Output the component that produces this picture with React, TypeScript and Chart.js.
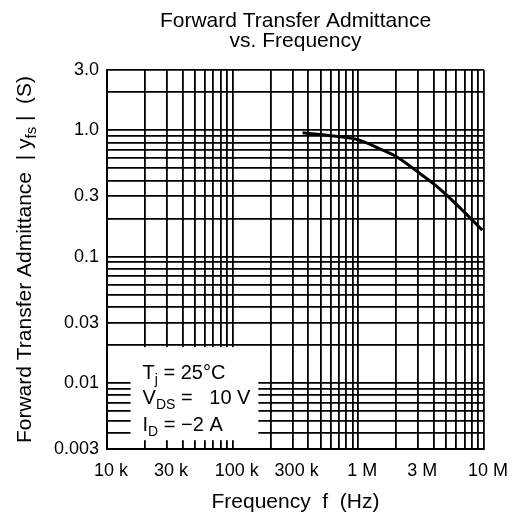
import { useEffect, useRef } from "react";
import { Chart, registerables } from "chart.js";

Chart.register(...registerables);

// ---- data ----
const titleLines = ["Forward Transfer Admittance", "vs. Frequency"];
const xAxisTitle = "Frequency  f  (Hz)";
const yAxisTitleParts: [string, boolean][] = [
  ["Forward Transfer Admittance  | y", false],
  ["fs", true],
  [" |  (S)", false],
];
const frequencies = [3.6e5, 6e5, 1e6, 1.5e6, 2e6, 3e6, 4e6, 5e6, 7e6, 9.7e6];
const admittance = [0.955, 0.905, 0.84, 0.71, 0.62, 0.465, 0.375, 0.31, 0.224, 0.162];
const xTickValues = [1e4, 3e4, 1e5, 3e5, 1e6, 3e6, 1e7];
const xTickLabels = ["10 k", "30 k", "100 k", "300 k", "1 M", "3 M", "10 M"];
const yTickValues = [0.003, 0.01, 0.03, 0.1, 0.3, 1, 3];
const yTickLabels = ["0.003", "0.01", "0.03", "0.1", "0.3", "1.0", "3.0"];
const conditionLines: [string, boolean][][] = [
  [["T", false], ["j", true], [" = 25°C", false]],
  [["V", false], ["DS", true], [" =   10 V", false]],
  [["I", false], ["D", true], [" = −2 A", false]],
];
const X_MIN = 1e4;
const X_MAX = 1e7;
const Y_MIN = 0.003;
const Y_MAX = 3;

const FONT = "'Liberation Sans', Arial, sans-serif";

function logGrid(min: number, max: number) {
  const out: number[] = [];
  for (let e = Math.floor(Math.log10(min)); e <= Math.ceil(Math.log10(max)); e++) {
    for (let m = 1; m <= 9; m++) {
      const v = m * Math.pow(10, e);
      if (v >= min * 0.999 && v <= max * 1.001) out.push(v);
    }
  }
  return out;
}

function labelFor(v: number, values: number[], labels: string[]) {
  for (let i = 0; i < values.length; i++) {
    if (Math.abs(Math.log10(v) - Math.log10(values[i])) < 1e-6) return labels[i];
  }
  return "";
}

function richWidth(ctx: CanvasRenderingContext2D, parts: [string, boolean][], size: number) {
  let w = 0;
  for (const [t, sub] of parts) {
    ctx.font = `${sub ? Math.round(size * 0.7) : size}px ${FONT}`;
    w += ctx.measureText(t).width;
  }
  return w;
}

function drawRich(
  ctx: CanvasRenderingContext2D,
  parts: [string, boolean][],
  x: number,
  y: number,
  size: number
) {
  let cx = x;
  ctx.textAlign = "left";
  ctx.textBaseline = "alphabetic";
  for (const [t, sub] of parts) {
    ctx.font = `${sub ? Math.round(size * 0.7) : size}px ${FONT}`;
    ctx.fillText(t, cx, sub ? y + size * 0.25 : y);
    cx += ctx.measureText(t).width;
  }
}

const textPlugin = {
  id: "textPlugin",
  beforeDatasetsDraw(chart: any) {
    const ctx: CanvasRenderingContext2D = chart.ctx;
    const xs = chart.scales.x;
    const ys = chart.scales.y;
    const left = xs.getPixelForValue(15.4e3);
    const right = xs.getPixelForValue(160e3);
    const top = ys.getPixelForValue(0.0192);
    const bottom = ys.getPixelForValue(0.00352);
    ctx.save();
    ctx.fillStyle = "#fff";
    ctx.fillRect(left, top, right - left, bottom - top);
    ctx.fillStyle = "#000";
    const offs = [32, 57, 84];
    conditionLines.forEach((parts, i) => {
      drawRich(ctx, parts, left + 12, top + offs[i], 20);
    });
    ctx.restore();
  },
  afterDraw(chart: any) {
    const ctx: CanvasRenderingContext2D = chart.ctx;
    const area = chart.chartArea;
    const cx = (area.left + area.right) / 2;
    ctx.save();
    ctx.fillStyle = "#000";
    ctx.textAlign = "center";
    ctx.textBaseline = "alphabetic";
    ctx.font = `21px ${FONT}`;
    ctx.fillText(titleLines[0], cx, 27);
    ctx.fillText(titleLines[1], cx, 47);
    ctx.font = `21px ${FONT}`;
    ctx.fillText(xAxisTitle, cx, 508);
    // y axis title
    const cy = (area.top + area.bottom) / 2;
    ctx.translate(31, cy);
    ctx.rotate(-Math.PI / 2);
    const w = richWidth(ctx, yAxisTitleParts, 21);
    drawRich(ctx, yAxisTitleParts, -w / 2, 0, 21);
    ctx.restore();
  },
};

export default function App() {
  const ref = useRef<HTMLCanvasElement | null>(null);
  useEffect(() => {
    if (!ref.current) return;
    const chart = new Chart(ref.current, {
      type: "line",
      data: {
        datasets: [
          {
            data: frequencies.map((f, i) => ({ x: f, y: admittance[i] })),
            borderColor: "#000",
            borderWidth: 3,
            pointRadius: 0,
            cubicInterpolationMode: "monotone",
            fill: false,
          },
        ],
      },
      options: {
        animation: false,
        responsive: false,
        devicePixelRatio: 1,
        layout: { padding: { top: 70, left: 0, right: 30, bottom: 0 } },
        plugins: { legend: { display: false }, tooltip: { enabled: false }, title: { display: false } },
        scales: {
          x: {
            type: "logarithmic",
            min: X_MIN,
            max: X_MAX,
            afterBuildTicks: (s: any) => {
              s.ticks = logGrid(X_MIN, X_MAX).map((v) => ({ value: v }));
            },
            afterFit: (s: any) => {
              s.height = 70;
            },
            grid: { color: "#000", lineWidth: 1.8, drawTicks: false },
            border: { display: true, color: "#000", width: 2 },
            ticks: {
              autoSkip: false,
              maxRotation: 0,
              minRotation: 0,
              padding: 11,
              labelOffset: 4,
              color: "#000",
              font: { family: FONT, size: 18 },
              callback: (v: any) => labelFor(Number(v), xTickValues, xTickLabels),
            },
          },
          y: {
            type: "logarithmic",
            min: Y_MIN,
            max: Y_MAX,
            afterBuildTicks: (s: any) => {
              s.ticks = logGrid(Y_MIN, Y_MAX).map((v) => ({ value: v }));
            },
            afterFit: (s: any) => {
              s.width = 107;
            },
            grid: { color: "#000", lineWidth: 1.8, drawTicks: false },
            border: { display: true, color: "#000", width: 2 },
            ticks: {
              autoSkip: false,
              padding: 8,
              color: "#000",
              font: { family: FONT, size: 18 },
              callback: (v: any) => labelFor(Number(v), yTickValues, yTickLabels),
            },
          },
        },
      } as any,
      plugins: [textPlugin],
    });
    return () => chart.destroy();
  }, []);
  return (
    <div style={{ position: "fixed", left: 0, top: 0, width: 515, height: 519, background: "#fff" }}>
      <canvas ref={ref} width={515} height={519} />
    </div>
  );
}
